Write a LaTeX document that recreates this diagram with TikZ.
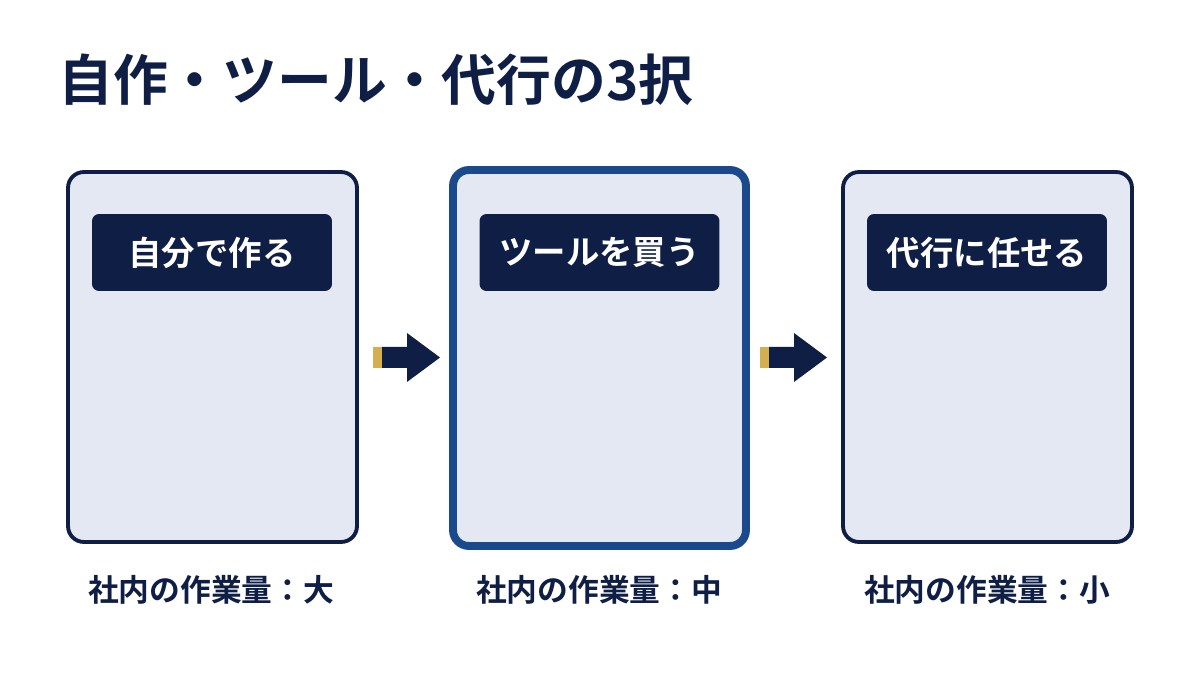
\documentclass[tikz,border=0pt]{standalone}
\usepackage{fontspec}
\setmainfont{Noto Sans CJK JP}[BoldFont={* Bold}]
\definecolor{navy}{HTML}{0F1E45}
\definecolor{pale}{HTML}{E3E8F2}
\definecolor{royal}{HTML}{1B4A8C}
\definecolor{gold}{HTML}{D4AF4F}
\tikzset{
  card/.style={draw=navy, line width=2.2pt, fill=pale, rounded corners=9pt, minimum width=5.78cm, minimum height=7.4cm},
  head/.style={fill=navy, text=white, rounded corners=4pt, minimum width=4.8cm, minimum height=1.54cm, font=\bfseries\fontsize{19}{19}\selectfont},
  note/.style={text=navy, font=\bfseries\fontsize{17.5}{18}\selectfont},
}
\begin{document}
\begin{tikzpicture}[x=0.02cm, y=-0.02cm]
    \useasboundingbox[fill=white] (0,0) rectangle (1200,675);
    % title
    \node[anchor=west, text=navy, font=\bfseries\fontsize{31.2}{32}\selectfont] (title) at (52,80) {自作・ツール・代行の3択};

    % cards
    \node[card] (c1) at (212.5,357) {};
    \node[card, draw=royal, line width=4.5pt, minimum width=5.86cm, minimum height=7.52cm] (c2) at (599.5,358) {};
    \node[card] (c3) at (987.5,357) {};

    % headers
    \node[head] (h1) at (212,252.5) {自分で作る};
    \node[head] (h2) at (599.5,252.5) {ツールを買う};
    \node[head] (h3) at (987,252.5) {代行に任せる};

    % workload
    \node[note] (n1) at (211,590) {社内の作業量：大};
    \node[note] (n2) at (599,590) {社内の作業量：中};
    \node[note] (n3) at (987,590) {社内の作業量：小};

    % arrows
    \foreach \x in {373,760}{
        \fill[gold] (\x,347) rectangle ++(9,21);
        \fill[navy] (\x+9,347) -- ++(25,0) -- ++(0,-14) -- ++(33,24.5) -- ++(-33,24.5) -- ++(0,-14) -- ++(-25,0) -- cycle;
    }
\end{tikzpicture}
\end{document}
